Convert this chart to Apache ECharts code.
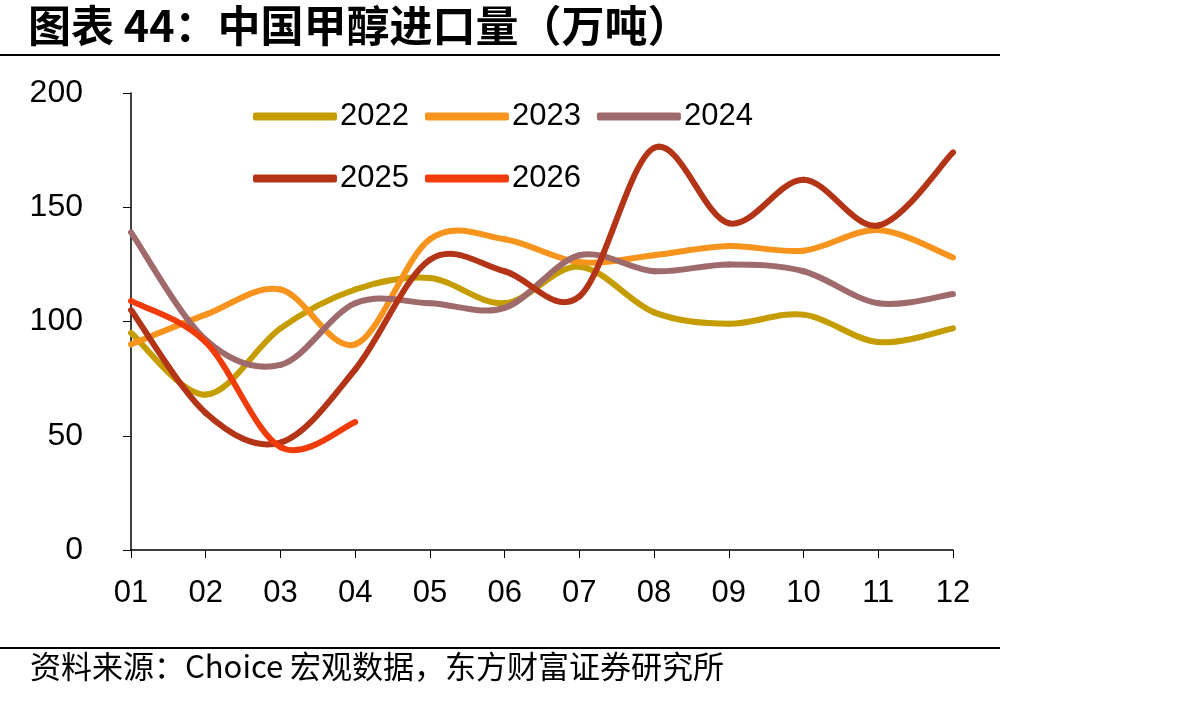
<!DOCTYPE html>
<html>
<head>
<meta charset="utf-8">
<script src="https://cdn.jsdelivr.net/npm/echarts@6/dist/echarts.min.js"></script>
<style>
  html, body { margin: 0; padding: 0; background: #fff; }
  #chart { width: 1192px; height: 701px; }
</style>
</head>
<body>
<div id="chart"></div>
<script>
const months = ['01', '02', '03', '04', '05', '06', '07', '08', '09', '10', '11', '12'];
const y2022 = [95, 68, 97, 114, 119, 108, 124, 104, 99, 103, 91, 97];
const y2023 = [90, 103, 114, 90, 136, 136, 126, 129, 133, 131, 140, 128];
const y2024 = [139, 92, 81, 108, 108, 106, 129, 122, 125, 122, 108, 112];
const y2025 = [105, 60, 47, 79, 127, 122, 111, 176, 143, 162, 142, 174];
const y2026 = [109, 91, 45, 56];
const yTicks = [0, 50, 100, 150, 200];

const colors = {
    '2022': '#C59D00',
    '2023': '#F7941E',
    '2024': '#9E6A6B',
    '2025': '#B33416',
    '2026': '#F03C0A'
};

const chart = echarts.init(document.getElementById('chart'));

// smooth line like the spreadsheet one: catmull-rom pieces between neighbours
function makeLine(name, values) {
    return {
        name: name,
        type: 'custom',
        data: values.map((v, i) => [i, v]),
        encode: { x: 0, y: 1 },
        itemStyle: { color: colors[name] },
        renderItem: function (params, api) {
            const i = params.dataIndex;
            if (i >= values.length - 1) return null;
            const pt = (k) => {
                const j = Math.max(0, Math.min(values.length - 1, k));
                return api.coord([j, values[j]]);
            };
            const p0 = pt(i - 1), p1 = pt(i), p2 = pt(i + 1), p3 = pt(i + 2);
            return {
                type: 'bezierCurve',
                shape: {
                    x1: p1[0], y1: p1[1],
                    x2: p2[0], y2: p2[1],
                    cpx1: p1[0] + (p2[0] - p0[0]) / 6,
                    cpy1: p1[1] + (p2[1] - p0[1]) / 6,
                    cpx2: p2[0] - (p3[0] - p1[0]) / 6,
                    cpy2: p2[1] - (p3[1] - p1[1]) / 6
                },
                style: { stroke: colors[name], lineWidth: 6, fill: 'none', lineCap: 'round' }
            };
        }
    };
}

const legendBase = {
    left: 248,
    icon: 'roundRect',
    itemWidth: 84,
    itemHeight: 8,
    itemGap: 16,
    textStyle: { fontFamily: 'Liberation Sans', fontSize: 31, color: '#000', padding: [0, 0, 0, -2] }
};

const options = {
    animation: false,
    grid: { left: 131, right: 239, top: 93, bottom: 151 },
    legend: [
        Object.assign({}, legendBase, { top: 96, data: ['2022', '2023', '2024'] }),
        Object.assign({}, legendBase, { top: 158, data: ['2025', '2026'] })
    ],
    xAxis: {
        type: 'category',
        data: months,
        boundaryGap: false,
        axisLine: { lineStyle: { color: '#000', width: 1.5 } },
        axisTick: { alignWithLabel: true, length: 8, lineStyle: { color: '#000' } },
        axisLabel: { color: '#000', fontSize: 31, fontFamily: 'Liberation Sans', margin: 28 }
    },
    yAxis: {
        type: 'value',
        min: yTicks[0],
        max: yTicks[yTicks.length - 1],
        interval: 50,
        splitLine: { show: false },
        axisLine: { show: true, lineStyle: { color: '#000', width: 1.5 } },
        axisTick: { show: true, length: 8, lineStyle: { color: '#000' } },
        axisLabel: { color: '#000', fontSize: 32, fontFamily: 'Liberation Sans', margin: 48 }
    },
    series: [
        makeLine('2022', y2022),
        makeLine('2023', y2023),
        makeLine('2024', y2024),
        makeLine('2025', y2025),
        makeLine('2026', y2026)
    ],
    graphic: [
        {
            type: 'text', left: 28, top: 4,
            style: { text: '图表 44：中国甲醇进口量（万吨）', font: 'bold 43px "Noto Sans CJK SC"', fill: '#000' }
        },
        {
            type: 'line', shape: { x1: 0, y1: 55, x2: 1000, y2: 55 },
            style: { stroke: '#000', lineWidth: 2 }
        },
        {
            type: 'line', shape: { x1: 0, y1: 648, x2: 1000, y2: 648 },
            style: { stroke: '#000', lineWidth: 2 }
        },
        {
            type: 'text', left: 30, top: 651,
            style: { text: '资料来源：Choice 宏观数据，东方财富证券研究所', font: '31px "Noto Sans CJK SC"', fill: '#000' }
        }
    ]
};

chart.setOption(options);
window.addEventListener('resize', chart.resize);
</script>
</body>
</html>
